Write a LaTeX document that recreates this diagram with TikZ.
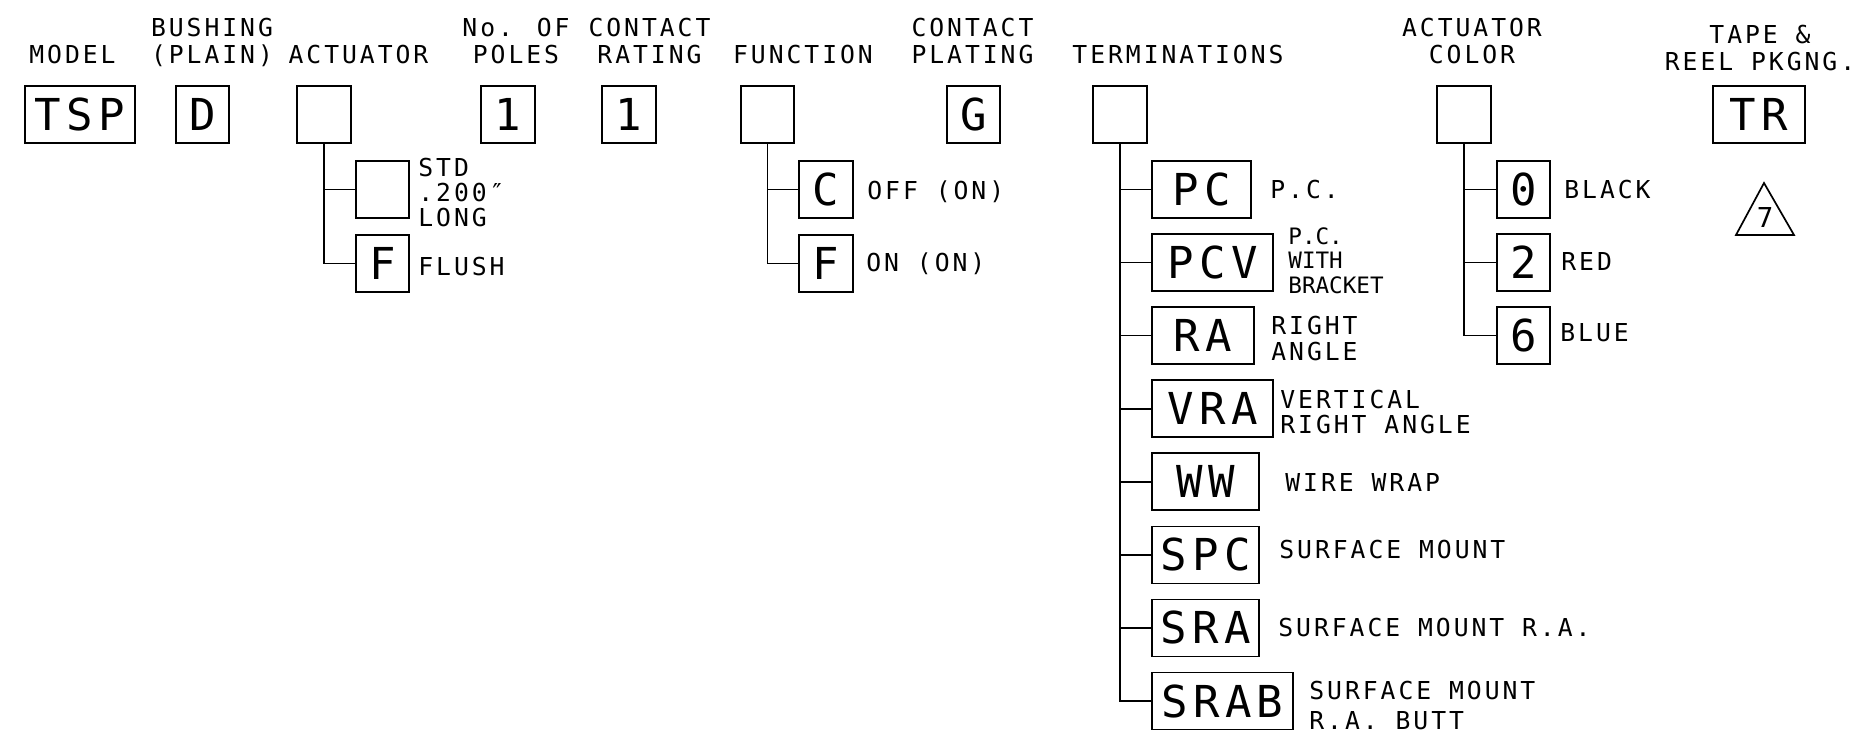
\documentclass[tikz,border=0pt]{standalone}
\usepackage{fontspec}
\usepackage{tikz}
\newfontfamily\cadfont{DejaVu Sans Mono}[LetterSpace=12]
\newfontfamily\cadnarrow{DejaVu Sans Mono}
\newdimen\pxu \pxu=0.5pt

\tikzset{
  codebox/.style={draw, line width=0.85pt, inner sep=0pt, minimum height=57\pxu,
    minimum width=54\pxu, font=\cadfont\fontsize{22pt}{24pt}\selectfont},
  headtxt/.style={align=center, anchor=north, inner sep=0pt,
    font=\cadfont\fontsize{12.35pt}{13.5pt}\selectfont},
  desctxt/.style={align=left, anchor=north west, inner sep=0pt,
    font=\cadfont\fontsize{12.35pt}{#1}\selectfont},
  desctxt/.default=12.5pt,
  narrowtxt/.style={align=left, anchor=north west, inner sep=0pt,
    font=\cadnarrow\fontsize{11.3pt}{12.25pt}\selectfont},
  branchline/.style={line width=0.85pt},
}

\begin{document}
\begin{tikzpicture}[x=0.5pt, y=-0.5pt]
  \useasboundingbox (0,0) rectangle (1865,733);
  % Column headings
  \node[headtxt] (hModel) at (72.5,45) {MODEL};
  \node[headtxt] (hBush) at (212,18) {BUSHING\\(PLAIN)};
  \node[headtxt] (hAct) at (358.5,45) {ACTUATOR};
  \node[headtxt] (hPoles) at (516,18) {No. OF\\POLES};
  \node[headtxt] (hRating) at (649.5,18) {CONTACT\\RATING};
  \node[headtxt] (hFunc) at (803,45) {FUNCTION};
  \node[headtxt] (hPlate) at (972.5,18) {CONTACT\\PLATING};
  \node[headtxt] (hTerm) at (1178,45) {TERMINATIONS};
  \node[headtxt] (hColor) at (1472,18) {ACTUATOR\\COLOR};
  \node[headtxt] (hTape) at (1760,25) {TAPE \&\\REEL PKGNG.};
  % Part number row
  \node[codebox, minimum width=110\pxu] (model) at (80,114.5) {TSP};
  \node[codebox, minimum width=53\pxu] (bushing) at (202.5,114.5) {D};
  \node[codebox] (actuator) at (324,114.5) {};
  \node[codebox] (poles) at (508,114.5) {1};
  \node[codebox] (rating) at (629,114.5) {1};
  \node[codebox, minimum width=53\pxu] (function) at (767.5,114.5) {};
  \node[codebox, minimum width=53\pxu] (plating) at (973.5,114.5) {G};
  \node[codebox] (term) at (1120,114.5) {};
  \node[codebox] (color) at (1464,114.5) {};
  \node[codebox, minimum width=92\pxu] (tape) at (1759,114.5) {TR};
  % Actuator options
  \node[codebox, minimum width=53\pxu] (actStd) at (382.5,189.5) {};
  \node[codebox, minimum width=53\pxu] (actFlush) at (382.5,263.5) {F};
  \node[desctxt=12.5pt] (dStd) at (418,158) {STD\\.200″\\LONG};
  \node[desctxt] (dFlush) at (418,257) {FLUSH};
  \draw[branchline] (actuator.south) |- (actFlush.west);
  \draw[branchline] (actuator.south |- actStd.west) -- (actStd.west);
  % Function options
  \node[codebox] (funcC) at (826,189.5) {C};
  \node[codebox] (funcF) at (826,263.5) {F};
  \node[desctxt] (dOff) at (867,180) {OFF (ON)};
  \node[desctxt] (dOn) at (866,252) {ON (ON)};
  \draw[branchline] (function.south) |- (funcF.west);
  \draw[branchline] (function.south |- funcC.west) -- (funcC.west);
  % Termination options
  \foreach \nm/\w [count=\i from 0] in {PC/99,PCV/121,RA/102,VRA/121,WW/107,SPC/107,SRA/107,SRAB/141}
    \node[codebox, minimum width=\w\pxu] (t\nm) at ({1152+\w/2},{189.5+73.07*\i}) {\nm};
  \draw[branchline] (term.south) |- (tSRAB.west);
  \foreach \nm in {PC,PCV,RA,VRA,WW,SPC,SRA}
    \draw[branchline] (term.south |- t\nm.west) -- (t\nm.west);
  \node[desctxt] (dPC) at (1270,180) {P.C.};
  \node[narrowtxt] (dPCV) at (1288,227) {P.C.\\WITH\\BRACKET};
  \node[desctxt=13pt] (dRA) at (1271,316) {RIGHT\\ANGLE};
  \node[desctxt] (dVRA) at (1280,390) {VERTICAL\\RIGHT ANGLE};
  \node[desctxt] (dWW) at (1285,473) {WIRE WRAP};
  \node[desctxt] (dSPC) at (1279,540) {SURFACE MOUNT};
  \node[desctxt] (dSRA) at (1278,618) {SURFACE MOUNT R.A.};
  \node[desctxt=14.8pt] (dSRAB) at (1309,681) {SURFACE MOUNT\\R.A. BUTT};
  % Actuator color options
  \foreach \nm/\lbl [count=\i from 0] in {Black/0,Red/2,Blue/6}
    \node[codebox, minimum width=53\pxu] (c\nm) at ({1523.5},{189.5+73.07*\i}) {\lbl};
  \draw[branchline] (color.south) |- (cBlue.west);
  \draw[branchline] (color.south |- cBlack.west) -- (cBlack.west);
  \draw[branchline] (color.south |- cRed.west) -- (cRed.west);
  \node[desctxt] (dBlack) at (1564,180) {BLACK};
  \node[desctxt] (dRed) at (1561,252) {RED};
  \node[desctxt] (dBlue) at (1560,323) {BLUE};
  % Note marker under TR
  \draw[line width=0.85pt] (1764,183) -- (1794,235) -- (1736,235) -- cycle;
  \node[font=\cadnarrow\fontsize{13.7pt}{14pt}\selectfont, inner sep=0pt] (note7) at (1765,218) {7};
\end{tikzpicture}
\end{document}
